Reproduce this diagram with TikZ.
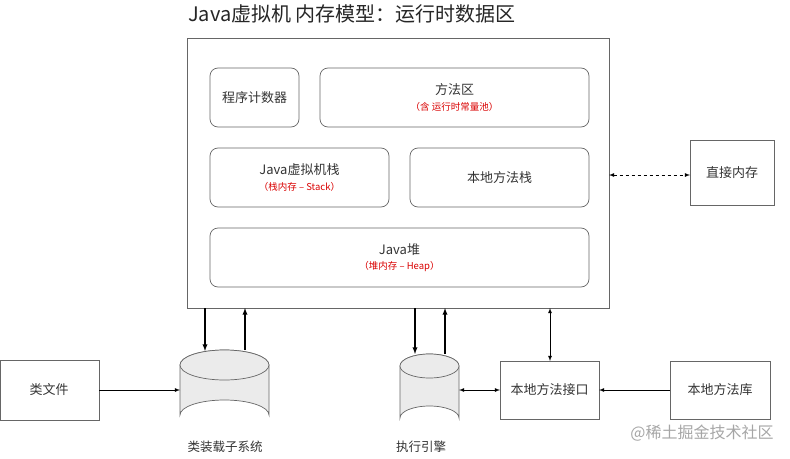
\documentclass[tikz,border=0pt]{standalone}
\usepackage{fontspec}
\setmainfont{Noto Sans CJK SC}
\begin{document}
\begin{tikzpicture}[x=1pt,y=-1pt,
 bx/.style={draw=black!60,line width=0.7pt},
 rbox/.style={bx,rounded corners=8pt},
 lbl/.style={font=\fontsize{13}{15}\selectfont,align=center,text=black!80},
 red/.style={text=red!85!black,font=\fontsize{9.5}{11}\selectfont},
 arr/.style={-latex,line width=1.3pt},
 thin/.style={latex-latex,line width=0.8pt}]
\useasboundingbox (0,0) rectangle (790,458);
\node[font=\fontsize{20}{23}\selectfont,text=black!85] (title) at (352,14) {Java虚拟机 内存模型：运行时数据区};
\draw[bx] (187,38) rectangle (609,308);
\coordinate (outer) at (398,173);
\draw[rbox] (210,68) rectangle (299,127); \node[lbl] (pc) at (254.5,98) {程序计数器};
\draw[rbox] (320,68) rectangle (589,127); \node[lbl] (ma) at (454.5,90) {方法区}; \node[red] (mar) at (454.5,107) {（含 运行时常量池）};
\draw[rbox] (210,148) rectangle (389,207); \node[lbl] (js) at (299.5,170) {Java虚拟机栈}; \node[red] (jsr) at (299.5,187) {（栈内存 – Stack）};
\draw[rbox] (410,148) rectangle (589,207); \node[lbl] (ns) at (499.5,178) {本地方法栈};
\draw[rbox] (210,228) rectangle (589,287); \node[lbl] (heap) at (399.5,250) {Java堆}; \node[red] (heapr) at (399.5,267) {（堆内存 – Heap）};
\draw[bx] (690,140) rectangle (774,205); \node[lbl] (dm) at (732,173) {直接内存};
\draw[latex-latex,dashed,line width=0.8pt] (609,175) -- (690,175);
\draw[bx] (0,360) rectangle (99,420); \node[lbl] (cf) at (49,390) {类文件};
\draw[bx] (500,361) rectangle (599,419); \node[lbl] (ni) at (549.5,390) {本地方法接口};
\draw[bx] (670,361) rectangle (770,419); \node[lbl] (nl) at (720,390) {本地方法库};
% cylinders
\draw[bx,fill=black!8] (180,365) -- (180,415) arc[start angle=180,end angle=360,x radius=44.5,y radius=15] -- (269,365) arc[start angle=0,end angle=-180,x radius=44.5,y radius=15];
\draw[bx,fill=black!8] (224.5,365) ellipse[x radius=44.5,y radius=15];
\draw[bx,fill=black!8] (400,366) -- (400,418) arc[start angle=180,end angle=360,x radius=29.5,y radius=12] -- (459,366) arc[start angle=0,end angle=-180,x radius=29.5,y radius=12];
\draw[bx,fill=black!8] (429.5,366) ellipse[x radius=29.5,y radius=12];
\node[lbl,font=\fontsize{12.5}{14}\selectfont] (cl) at (225,447) {类装载子系统};
\node[lbl,font=\fontsize{12.5}{14}\selectfont] (ee) at (421,447) {执行引擎};
\node[text=black!35,font=\fontsize{16}{18}\selectfont] (wm) at (702,433) {@稀土掘金技术社区};
\draw[arr] (205,308) -- (205,351);
\draw[arr] (245,350) -- (245,308);
\draw[arr] (415,308) -- (415,354);
\draw[arr] (445,354) -- (445,308);
\draw[thin] (550,308) -- (550,361);
\draw[thin] (459,390) -- (500,390);
\draw[-latex,line width=0.8pt] (99,390) -- (180,390);
\draw[-latex,line width=0.8pt] (670,390) -- (599,390);
\end{tikzpicture}
\end{document}
